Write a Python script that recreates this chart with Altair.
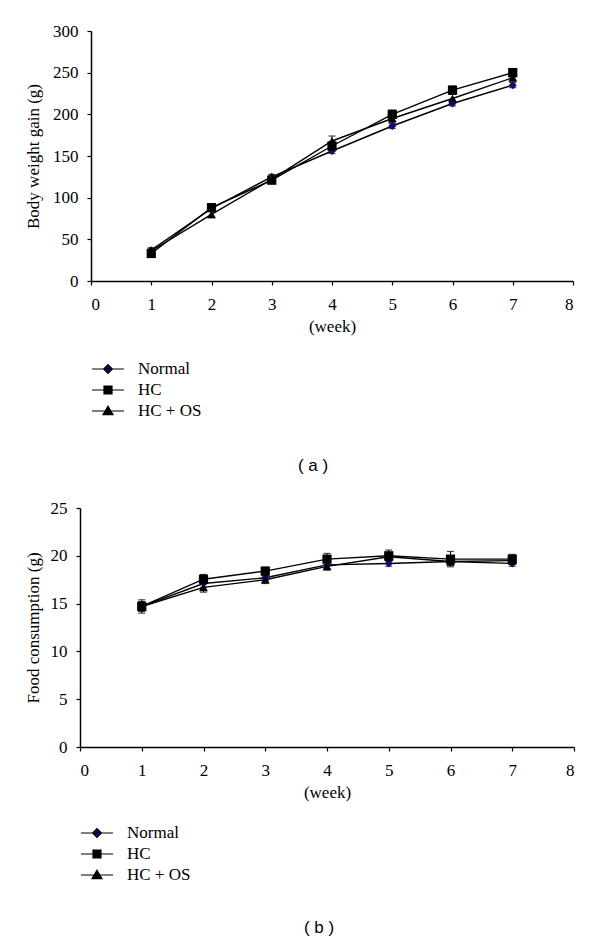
import altair as alt
import pandas as pd

weeks = [1, 2, 3, 4, 5, 6, 7]
series = ["Normal", "HC", "HC + OS"]
colors = ["#0b0b7a", "#000000", "#000000"]
shapes = ["diamond", "square", "triangle-up"]
marker_sizes = [64, 85, 80]

# (a) body weight gain (g)
bw_normal = [37, 87, 125, 156, 186, 213, 235]
bw_hc = [33, 88, 121, 162, 200, 229, 250]
bw_hcos = [36, 80, 122, 168, 195, 219, 244]
bw_err_normal = [3, 3, 3, 3, 3, 3, 3]
bw_err_hc = [3, 4, 4, 5, 5, 5, 5]
bw_err_hcos = [3, 4, 4, 6, 5, 5, 5]

# (b) food consumption (g)
fc_normal = [14.7, 17.1, 17.7, 19.05, 19.2, 19.4, 19.2]
fc_hc = [14.7, 17.55, 18.4, 19.65, 20.0, 19.65, 19.65]
fc_hcos = [14.7, 16.7, 17.5, 18.9, 19.9, 19.4, 19.5]
fc_err_normal = [0.5, 0.4, 0.3, 0.4, 0.3, 0.3, 0.3]
fc_err_hc = [0.7, 0.5, 0.4, 0.6, 0.6, 0.8, 0.5]
fc_err_hcos = [0.5, 0.5, 0.4, 0.4, 0.4, 0.4, 0.4]

# legend symbols: short line with the marker on it
legend_paths = [
    "M-2,0H2M0,-0.55L0.55,0L0,0.55L-0.55,0Z",
    "M-2,0H2M-0.5,-0.5H0.5V0.5H-0.5Z",
    "M-2,0H2M0,-0.6L0.62,0.45H-0.62Z",
]

SERIF = "Liberation Serif, Times New Roman, DejaVu Serif, serif"
SANS = "Liberation Sans, Arial, DejaVu Sans, sans-serif"


def make_df(vals, errs):
    rows = []
    # draw order: Normal, HC + OS, HC (HC on top)
    for idx in [0, 2, 1]:
        for w, v, e in zip(weeks, vals[idx], errs[idx]):
            rows.append({"week": w, "value": v, "lo": v - e, "hi": v + e,
                         "series": series[idx], "msize": marker_sizes[idx]})
    return pd.DataFrame(rows)


df_a = make_df([bw_normal, bw_hc, bw_hcos], [bw_err_normal, bw_err_hc, bw_err_hcos])
df_b = make_df([fc_normal, fc_hc, fc_hcos], [fc_err_normal, fc_err_hc, fc_err_hcos])


def panel(df, ytitle, ymax, ystep, width, height, inset, ytitle_pad,
          legend_y, caption, cap_offset):
    base = alt.Chart(df)
    x = alt.X("week:Q", scale=alt.Scale(domain=[0, 8], nice=False, range=[inset, width]),
              axis=alt.Axis(values=list(range(9)), title="(week)", format="d"))
    y = alt.Y("value:Q", scale=alt.Scale(domain=[0, ymax], nice=False),
              axis=alt.Axis(values=list(range(0, ymax + 1, ystep)), title=ytitle,
                            offset=-inset, titlePadding=ytitle_pad))
    lines = base.mark_line(color="black", strokeWidth=1.4).encode(
        x=x, y=y, detail="series:N")
    rules = base.mark_rule(color="black", strokeWidth=1).encode(
        x=x, y=alt.Y("lo:Q"), y2="hi:Q")
    caps_hi = base.mark_tick(color="black", size=7, thickness=1.2,
                             orient="horizontal").encode(x=x, y=alt.Y("hi:Q"))
    caps_lo = base.mark_tick(color="black", size=7, thickness=1.2,
                             orient="horizontal").encode(x=x, y=alt.Y("lo:Q"))
    points = base.mark_point(filled=True, opacity=1).encode(
        x=x, y=y,
        shape=alt.Shape("series:N", scale=alt.Scale(domain=series, range=shapes), legend=None),
        color=alt.Color("series:N", scale=alt.Scale(domain=series, range=colors), legend=None),
        size=alt.Size("msize:Q", scale=None, legend=None),
    )
    leg_kw = dict(orient="none", legendX=8 + inset, legendY=legend_y, title=None,
                  symbolSize=256, symbolStrokeColor="black", symbolStrokeWidth=1.2,
                  labelFont=SERIF, labelFontSize=17, labelColor="black",
                  labelOffset=21, rowPadding=4, padding=0)
    leg = base.transform_filter("datum.week < 0").mark_point(filled=True, opacity=1).encode(
        x=x, y=y,
        shape=alt.Shape("series:N", scale=alt.Scale(domain=series, range=legend_paths),
                        legend=alt.Legend(**leg_kw)),
        color=alt.Color("series:N", scale=alt.Scale(domain=series, range=colors),
                        legend=alt.Legend(**leg_kw)),
    )
    return alt.layer(lines, rules, caps_hi, caps_lo, points, leg).resolve_scale(
        shape="independent", color="independent"
    ).properties(
        width=width, height=height,
        title=alt.TitleParams(caption, orient="bottom", font=SANS,
                              fontSize=17, fontWeight="normal", color="black",
                              anchor="middle", dx=-(8 + inset / 2), offset=cap_offset),
    )


pa = panel(df_a, "Body weight gain (g)", 300, 50, 493, 250, 11, 10, 329, "( a )", 39)
pb = panel(df_b, "Food consumption (g)", 25, 5, 494, 239, 0, 8, 316, "( b )", 37)

chart = alt.vconcat(pa, pb, spacing=25).properties(
    padding={"left": 16, "top": 14, "right": 5, "bottom": 5},
).configure_view(stroke=None).configure_legend(
    labelFont=SERIF, labelFontSize=17, labelColor="black",
).configure_axis(
    grid=False,
    labelFont=SERIF, labelFontSize=17, labelColor="black",
    titleFont=SERIF, titleFontSize=17, titleFontWeight="normal", titleColor="black",
    domainColor="black", domainWidth=1.5, tickColor="black", tickWidth=1.2,
    tickSize=4, labelPadding=9,
).configure_axisX(labelPadding=11, titlePadding=6)

chart.save("out.html", embed_options={"renderer": "svg", "actions": False})
